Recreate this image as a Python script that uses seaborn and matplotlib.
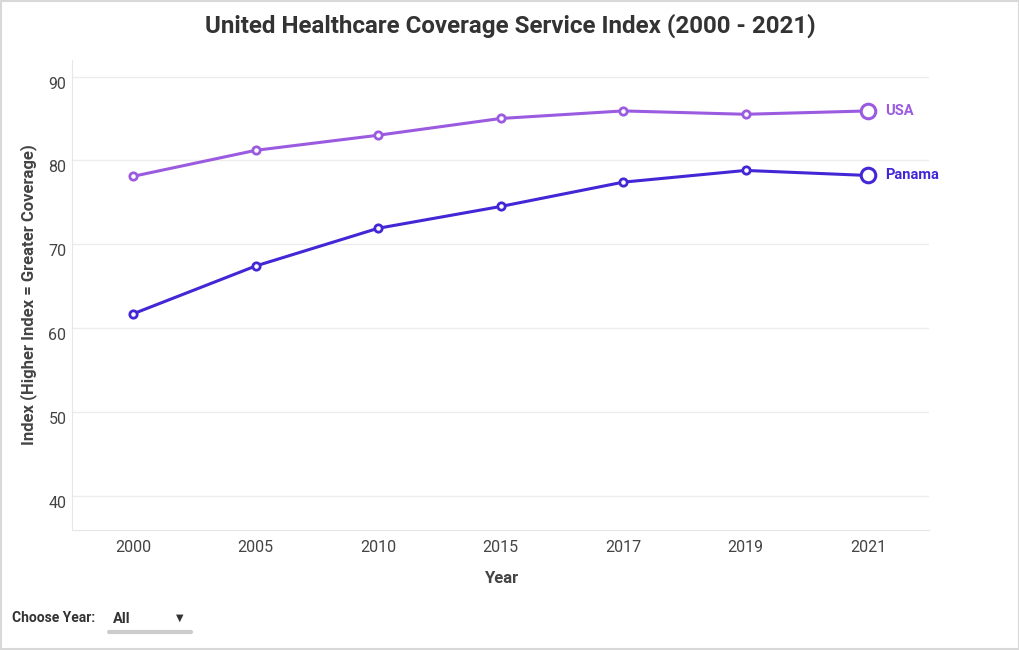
import pandas as pd
import matplotlib.pyplot as plt
import seaborn as sns

# values
years = ["2000", "2005", "2010", "2015", "2017", "2019", "2021"]
usa = [78.1, 81.2, 83.0, 85.0, 85.9, 85.5, 85.9]
panama = [61.7, 67.4, 71.9, 74.5, 77.4, 78.8, 78.2]

df = pd.DataFrame({
    "Year": years * 2,
    "Index": usa + panama,
    "Country": ["USA"] * len(years) + ["Panama"] * len(years),
})

colors = {"USA": "#9b5be0", "Panama": "#4326d6"}

sns.set_style("white")
plt.rcParams["font.family"] = ["Roboto", "DejaVu Sans"]

fig = plt.figure(figsize=(10.2, 6.5), dpi=100)
ax = fig.add_axes([0.0706, 0.1846, 0.8404, 0.7234])

sns.lineplot(data=df, x="Year", y="Index", hue="Country", palette=colors,
             linewidth=2.2, sort=False, legend=False, ax=ax, zorder=3)

for country, grp in df.groupby("Country"):
    c = colors[country]
    ax.scatter(grp["Year"].iloc[:-1], grp["Index"].iloc[:-1], s=28, facecolor="white",
               edgecolor=c, linewidth=2, zorder=4)
    ax.scatter(grp["Year"].iloc[-1:], grp["Index"].iloc[-1:], s=110, facecolor="white",
               edgecolor=c, linewidth=2.2, zorder=4)
    ax.annotate(country, (len(years) - 1, grp["Index"].iloc[-1]), xytext=(12, 0),
                textcoords="offset points", va="center", ha="left", color=c,
                fontsize=10.5, fontweight="bold", annotation_clip=False)

ax.set_xlim(-0.5, 6.5)
ax.set_ylim(35.9, 92)
ax.set_yticks([40, 50, 60, 70, 80, 90])
ax.grid(axis="y", color="#ececec", linewidth=1)
ax.set_axisbelow(True)
for side in ["top", "right"]:
    ax.spines[side].set_visible(False)
for side in ["left", "bottom"]:
    ax.spines[side].set_color("#e6e6e6")
ax.tick_params(axis="both", colors="#444444", labelsize=11.5, length=0)
ax.tick_params(axis="x", pad=7)
ax.tick_params(axis="y", pad=4)
for lbl in ax.get_yticklabels():
    lbl.set_verticalalignment("top")

ax.set_xlabel("Year", fontsize=12, fontweight="bold", color="#444444", labelpad=12)
ax.set_ylabel("Index (Higher Index = Greater Coverage)", fontsize=12,
              fontweight="bold", color="#444444", labelpad=8)

fig.text(0.5, 0.961, "United Healthcare Coverage Service Index (2000 - 2021)",
         ha="center", va="center", fontsize=17.4, fontweight="bold", color="#333333")

# dropdown control imitation
fig.text(0.012, 0.049, "Choose Year:", fontsize=10, fontweight="bold", color="#333333", va="center")
fig.text(0.111, 0.047, "All", fontsize=10.5, fontweight="bold", color="#333333", va="center")
fig.text(0.173, 0.049, "▼", fontsize=7, color="#333333", va="center")
fig.add_artist(plt.Line2D([0.107, 0.187], [0.028, 0.028], color="#cccccc", linewidth=3))

fig.add_artist(plt.Rectangle((0.0005, 0.0008), 0.999, 0.998, fill=False,
                             edgecolor="#d8d8d8", linewidth=1.5, transform=fig.transFigure))

fig.savefig("out.png", dpi=100)
